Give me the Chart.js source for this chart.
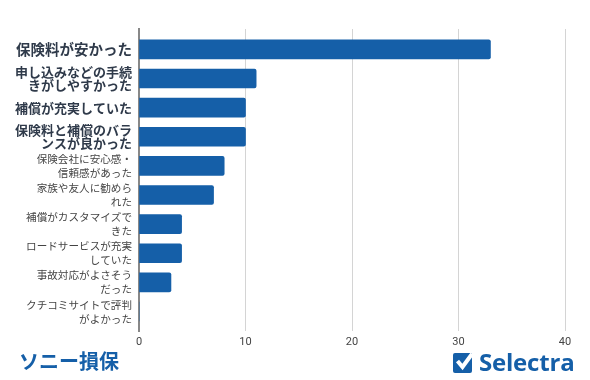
<!DOCTYPE html>
<html>
<head>
<meta charset="utf-8">
<script src="https://cdn.jsdelivr.net/npm/chart.js@4"></script>
<style>
  html, body { margin: 0; padding: 0; background: #fff; }
  #wrap { position: relative; width: 590px; height: 380px; }
  #title { position: absolute; left: 19px; top: 346px; font: 700 20px "Noto Sans CJK JP"; line-height: 30px; color: #155fa8; }
  #brand { position: absolute; left: 479px; top: 345px; font: 700 24px "Open Sans"; line-height: 34px; color: #155fa8; letter-spacing: -0.2px; }
</style>
</head>
<body>
<div id="wrap">
  <canvas id="chart" width="590" height="380"></canvas>
  <div id="title">ソニー損保</div>
  <div id="brand">Selectra</div>
</div>
<script>
const categories = [
  ['保険料が安かった'],
  ['申し込みなどの手続', 'きがしやすかった'],
  ['補償が充実していた'],
  ['保険料と補償のバラ', 'ンスが良かった'],
  ['保険会社に安心感・', '信頼感があった'],
  ['家族や友人に勧めら', 'れた'],
  ['補償がカスタマイズで', 'きた'],
  ['ロードサービスが充実', 'していた'],
  ['事故対応がよさそう', 'だった'],
  ['クチコミサイトで評判', 'がよかった']
];
const values = [33, 11, 10, 10, 8, 7, 4, 4, 3, 0];
const xTicks = [0, 10, 20, 30, 40];

// Font for the y labels: the top four are bold, the first one a bit bigger
function labelFont(i) {
  if (i === 0) return { family: 'Noto Sans CJK JP', size: 14.5, weight: 'bold', lineHeight: 1.0 };
  if (i < 4) return { family: 'Noto Sans CJK JP', size: 13, weight: 'bold', lineHeight: 1.0 };
  return { family: 'Noto Sans CJK JP', size: 10.6, lineHeight: 1.32 };
}

// Check mark logo next to the Selectra text
const logoPlugin = {
  id: 'logo',
  afterDraw(chart) {
    const c = chart.ctx;
    c.save();
    c.fillStyle = '#155fa8';
    c.beginPath();
    c.roundRect(453, 353, 19, 20, 2);
    c.fill();
    c.strokeStyle = '#fff';
    c.lineWidth = 4;
    c.beginPath();
    c.moveTo(457.5, 361);
    c.lineTo(462.5, 367);
    c.lineTo(472, 354);
    c.stroke();
    c.restore();
  }
};

new Chart(document.getElementById('chart').getContext('2d'), {
  type: 'bar',
  data: {
    datasets: [{
      data: values.map((v, i) => ({ x: v, y: i })),
      backgroundColor: '#155fa8',
      borderRadius: 2,
      borderSkipped: 'start',
      barThickness: 19
    }]
  },
  plugins: [logoPlugin],
  options: {
    indexAxis: 'y',
    responsive: false,
    animation: false,
    layout: { padding: { top: 29, right: 25, bottom: 0, left: 0 } },
    plugins: {
      legend: { display: false },
      tooltip: { enabled: false }
    },
    scales: {
      x: {
        type: 'linear',
        min: 0,
        max: 40,
        afterBuildTicks(axis) { axis.ticks = xTicks.map(v => ({ value: v })); },
        afterFit(axis) { axis.height = 49; },
        grid: { color: '#d4d4d4', lineWidth: 1, drawTicks: false },
        border: { display: false },
        ticks: {
          padding: 5,
          maxRotation: 0,
          color: '#444444',
          font: { family: 'Roboto', size: 11 }
        }
      },
      // Linear so the axis can run a little past the first and last bar
      y: {
        type: 'linear',
        reverse: true,
        offset: false,
        min: -0.7,
        max: 9.67,
        afterBuildTicks(axis) { axis.ticks = categories.map((c, i) => ({ value: i })); },
        afterFit(axis) { axis.width = 139; },
        grid: { display: false, drawTicks: false, offset: false },
        border: { display: true, color: '#888888', width: 2 },
        ticks: {
          padding: 7,
          autoSkip: false,
          callback: (v) => categories[v],
          color: ctx => ctx.index < 4 ? '#2f3a4a' : '#444444',
          font: ctx => labelFont(ctx.index)
        }
      }
    }
  }
});
</script>
</body>
</html>
